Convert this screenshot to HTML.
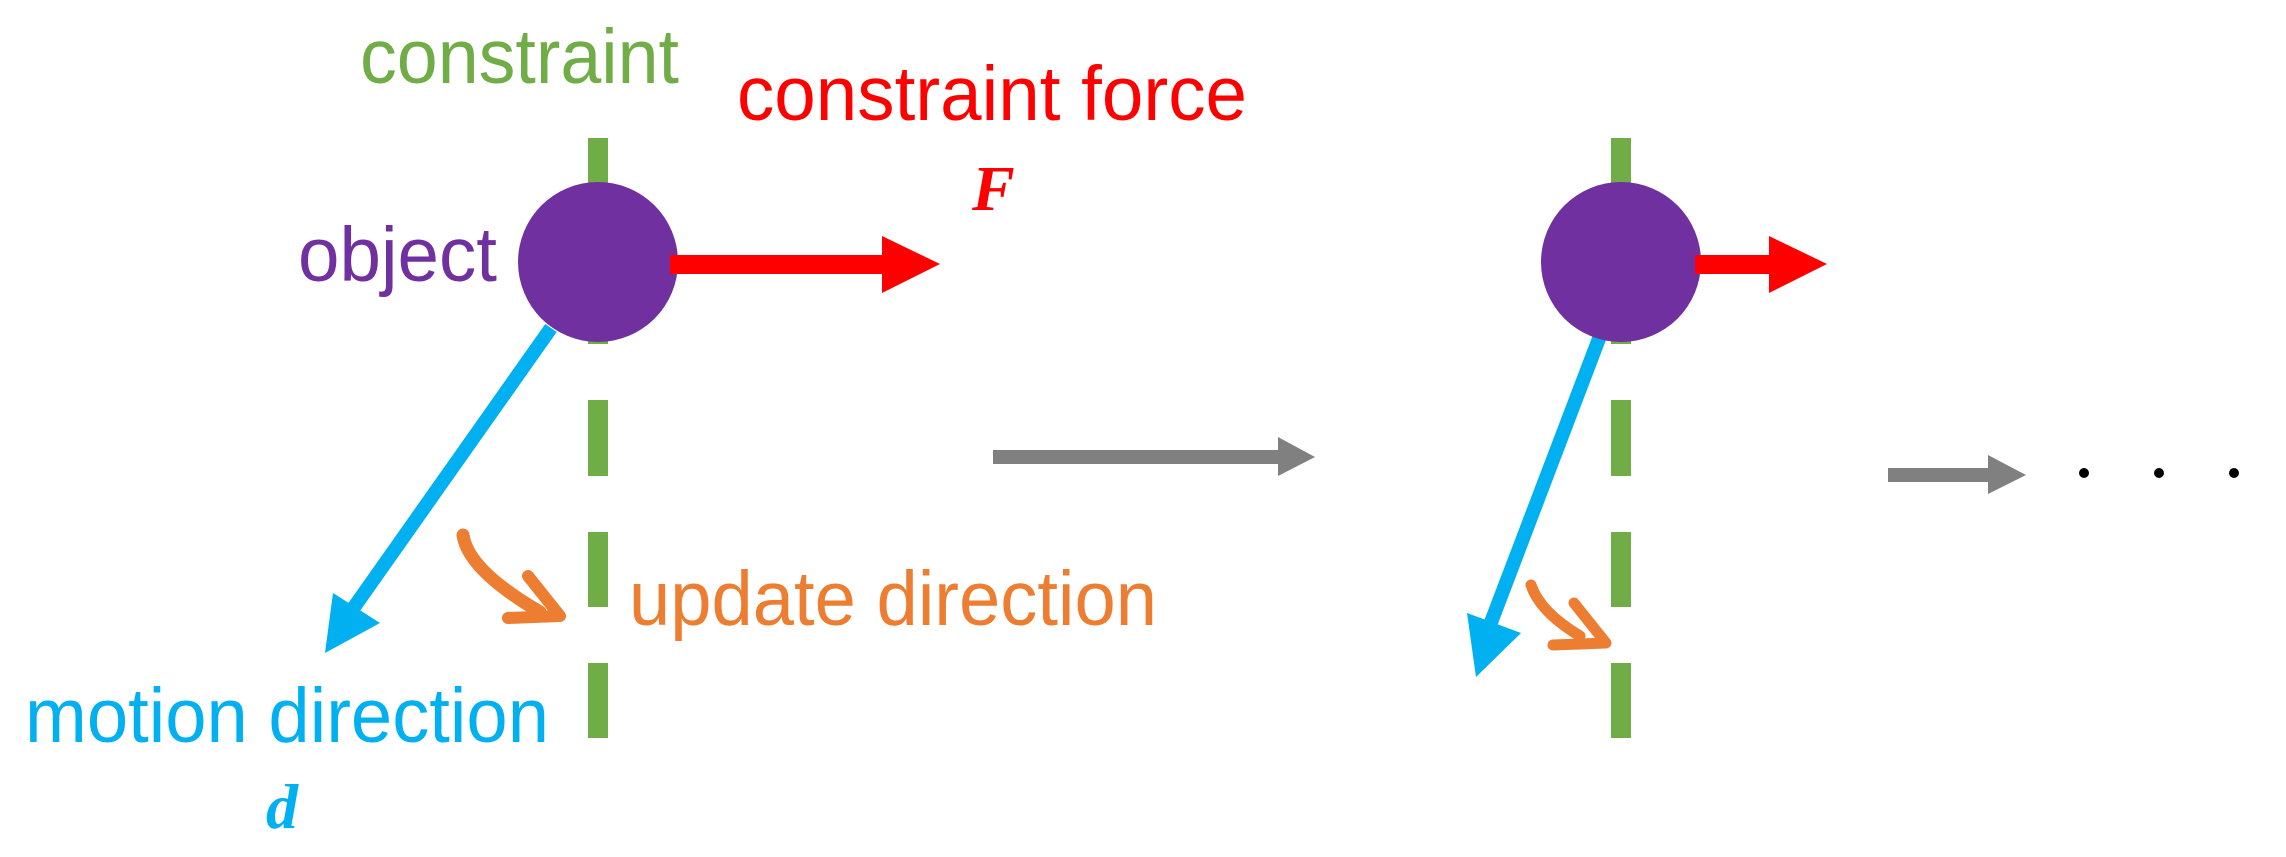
<!DOCTYPE html>
<html><head><meta charset="utf-8"><style>html,body{margin:0;padding:0;background:#fff}svg{display:block}</style></head>
<body>
<svg width="2286" height="857" viewBox="0 0 2286 857" xmlns="http://www.w3.org/2000/svg" font-family="Liberation Sans, Arial, sans-serif">
<g fill="#70AD47">
<rect x="588" y="138" width="20" height="206"/>
<rect x="588" y="400" width="20" height="76"/>
<rect x="588" y="532" width="20" height="75"/>
<rect x="588" y="663" width="20" height="75"/>
</g>
<line x1="551" y1="328" x2="345" y2="620" stroke="#00B0F0" stroke-width="14"/>
<polygon points="325,653 333,593 380,623" fill="#00B0F0"/>
<circle cx="598" cy="262" r="80" fill="#7030A0"/>
<rect x="670" y="255" width="215" height="19" fill="#FF0000"/>
<polygon points="882,236 940,264 882,293" fill="#FF0000"/>
<path d="M463,535 Q468,570 540,612" fill="none" stroke="#ED7D31" stroke-width="13" stroke-linecap="round"/>
<path d="M528,576 L560,616 L508,618" fill="none" stroke="#ED7D31" stroke-width="12" stroke-linecap="round" stroke-linejoin="round"/>
<text x="360" y="83" font-size="77" fill="#70AD47" textLength="319" lengthAdjust="spacingAndGlyphs">constraint</text>
<text x="737" y="120" font-size="77" fill="#FF0000" textLength="510" lengthAdjust="spacingAndGlyphs">constraint force</text>
<text x="972" y="210" font-size="64" fill="#FF0000" font-style="italic" font-weight="bold" font-family="Liberation Serif, serif">F</text>
<text x="298" y="281" font-size="77" fill="#7030A0" textLength="199" lengthAdjust="spacingAndGlyphs">object</text>
<text x="629" y="625" font-size="77" fill="#ED7D31" textLength="528" lengthAdjust="spacingAndGlyphs">update direction</text>
<text x="25" y="742" font-size="77" fill="#00B0F0" textLength="524" lengthAdjust="spacingAndGlyphs">motion direction</text>
<text x="266" y="828" font-size="64" fill="#00B0F0" font-style="italic" font-weight="bold" font-family="Liberation Serif, serif">d</text>
<rect x="993" y="450" width="290" height="14" fill="#808080"/>
<polygon points="1278,437 1315,457 1278,476" fill="#808080"/>
<g fill="#70AD47">
<rect x="1611" y="138" width="20" height="206"/>
<rect x="1611" y="400" width="20" height="76"/>
<rect x="1611" y="532" width="20" height="75"/>
<rect x="1611" y="663" width="20" height="75"/>
</g>
<line x1="1600" y1="336" x2="1490" y2="625" stroke="#00B0F0" stroke-width="14"/>
<polygon points="1476,677 1467,613 1521,633" fill="#00B0F0"/>
<circle cx="1621" cy="262" r="80" fill="#7030A0"/>
<rect x="1695" y="255" width="78" height="19" fill="#FF0000"/>
<polygon points="1769,236 1827,264 1769,293" fill="#FF0000"/>
<path d="M1531,585 Q1540,612 1580,636" fill="none" stroke="#ED7D31" stroke-width="11" stroke-linecap="round"/>
<path d="M1574,603 L1606,643 L1553,645" fill="none" stroke="#ED7D31" stroke-width="11" stroke-linecap="round" stroke-linejoin="round"/>
<rect x="1888" y="468" width="104" height="14" fill="#808080"/>
<polygon points="1988,455 2026,475 1988,494" fill="#808080"/>
<circle cx="2084" cy="473" r="5" fill="#000"/>
<circle cx="2159" cy="473" r="5" fill="#000"/>
<circle cx="2234" cy="473" r="5" fill="#000"/>
</svg>
</body></html>
